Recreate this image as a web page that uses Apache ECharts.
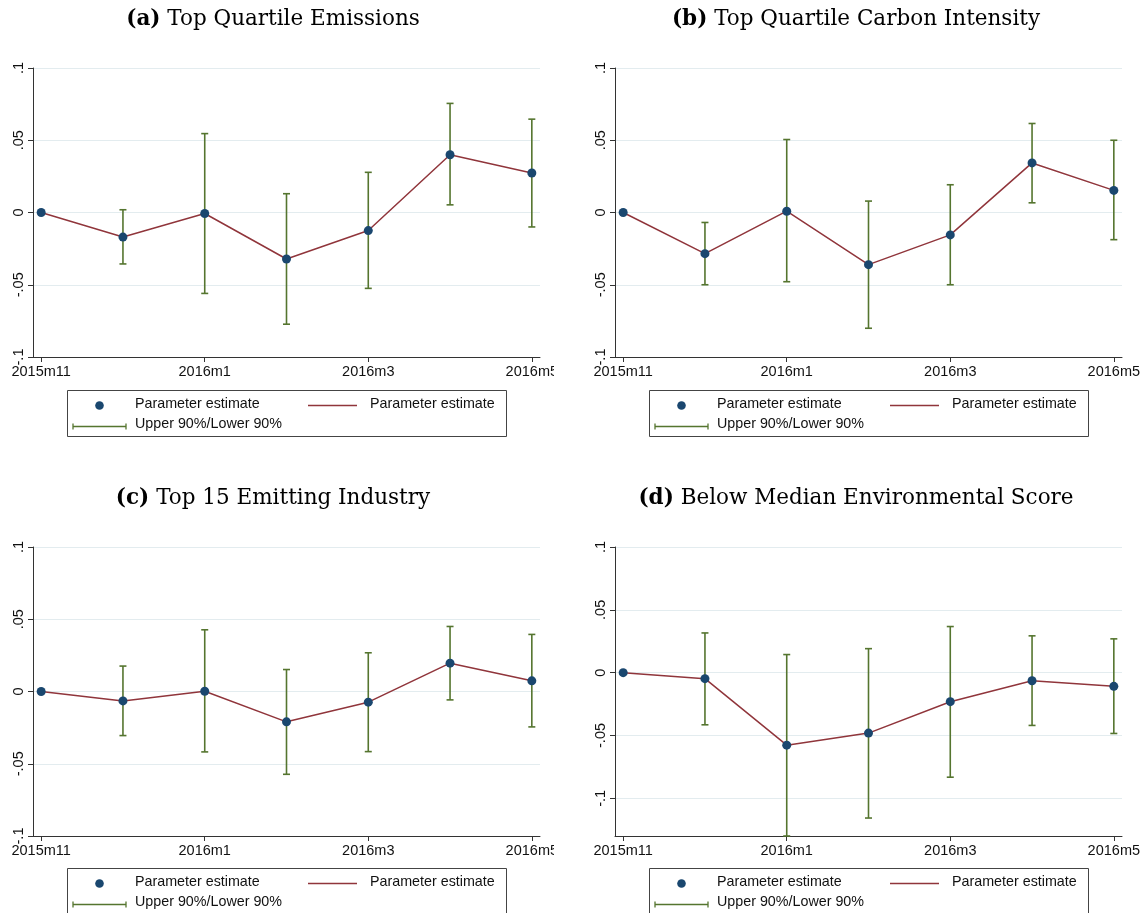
<!DOCTYPE html>
<html><head><meta charset="utf-8">
<script src="https://cdn.jsdelivr.net/npm/echarts@6/dist/echarts.min.js"></script>
<style>html,body{margin:0;padding:0;background:#fff}#c{width:1145px;height:913px}</style>
</head><body><div id="c"></div>
<script>
// ---- data ----
const months = ['2015m11','2015m12','2016m1','2016m2','2016m3','2016m4','2016m5'];
const xTickIdx = [0, 2, 4, 6];
const yTicks = [-0.1, -0.05, 0, 0.05, 0.1];

const panelLetters = ['(a)', '(b)', '(c)', '(d)'];
const panelTitles = ['Top Quartile Emissions', 'Top Quartile Carbon Intensity', 'Top 15 Emitting Industry', 'Below Median Environmental Score'];

const estA = [0, -0.0170, -0.0007, -0.0322, -0.0125, 0.0400, 0.0273];
const hiA  = [null, 0.0019, 0.0546, 0.0130, 0.0278, 0.0755, 0.0646];
const loA  = [null, -0.0356, -0.0560, -0.0773, -0.0525, 0.0053, -0.0100];

const estB = [0, -0.0285, 0.0009, -0.0361, -0.0155, 0.0343, 0.0153];
const hiB  = [null, -0.0069, 0.0505, 0.0079, 0.0192, 0.0616, 0.0500];
const loB  = [null, -0.0500, -0.0479, -0.0801, -0.0500, 0.0067, -0.0188];

const estC = [0, -0.0065, 0.0002, -0.0210, -0.0074, 0.0196, 0.0074];
const hiC  = [null, 0.0176, 0.0427, 0.0152, 0.0268, 0.0450, 0.0395];
const loC  = [null, -0.0305, -0.0418, -0.0573, -0.0416, -0.0058, -0.0245];

const estD = [0, -0.0048, -0.0577, -0.0481, -0.0231, -0.0064, -0.0109];
const hiD  = [null, 0.0316, 0.0144, 0.0191, 0.0367, 0.0293, 0.0269];
const loD  = [null, -0.0415, -0.1300, -0.1157, -0.0832, -0.0420, -0.0484];

const yMins = [-0.1, -0.1, -0.1, -0.13];
const yMax = 0.1;

const legendLabels = ['Parameter estimate', 'Parameter estimate', 'Upper 90%/Lower 90%'];

// ---- styles / layout ----
const NAVY = '#1a476f', MAROON = '#90353b', GREEN = '#55752f';
const GRIDC = '#e3ecef', AXISC = '#333333', TXT = '#111111';
const SANS = '"Liberation Sans", Arial, sans-serif';
const SERIF = '"DejaVu Serif", "Liberation Serif", serif';

const ests = [estA, estB, estC, estD];
const his = [hiA, hiB, hiC, hiD];
const los = [loA, loB, loC, loD];

const colX = [33, 615];
const rowY = [68, 547];
const GW = 507, GH = 289;
const titleX = [273, 856];
const titleY = [19, 498];

function fmtY(v) {
  const r = Math.round(v * 100) / 100;
  if (r === 0) return '0';
  return String(r).replace('0.', '.');
}

const grid = [], xAxis = [], yAxis = [], series = [], graphic = [];

for (let p = 0; p < 4; p++) {
  const c = p % 2, r = Math.floor(p / 2);
  grid.push({left: colX[c], top: rowY[r], width: GW, height: GH, containLabel: false});
  xAxis.push({
    type: 'value', gridIndex: p, min: -0.1, max: 6.1, position: 'bottom',
    axisLine: {show: true, onZero: false, lineStyle: {color: AXISC, width: 1}},
    axisTick: {show: true, length: 5, customValues: xTickIdx, lineStyle: {color: AXISC}},
    axisLabel: {show: true, customValues: xTickIdx, margin: 7, color: TXT, fontFamily: SANS, fontSize: 14.5,
      formatter: v => months[Math.round(v)]},
    splitLine: {show: false}
  });
  yAxis.push({
    type: 'value', gridIndex: p, min: yMins[p], max: yMax, position: 'left',
    axisLine: {show: true, onZero: false, lineStyle: {color: AXISC, width: 1}},
    axisTick: {show: true, length: 5, customValues: yTicks, lineStyle: {color: AXISC}},
    axisLabel: {show: true, customValues: yTicks, rotate: 90, margin: 7, color: TXT, fontFamily: SANS, fontSize: 14.5,
      formatter: fmtY},
    splitLine: {show: true, lineStyle: {color: GRIDC, width: 1}}
  });

  const ciData = [];
  for (let i = 0; i < months.length; i++) {
    if (his[p][i] !== null) ciData.push([i, los[p][i], his[p][i]]);
  }
  const ptData = ests[p].map((v, i) => [i, v]);

  series.push({
    type: 'custom', xAxisIndex: p, yAxisIndex: p, z: 2, silent: true,
    encode: {x: 0, y: [1, 2]},
    data: ciData,
    renderItem: (params, api) => {
      const x = api.value(0);
      const a = api.coord([x, api.value(2)]);
      const b = api.coord([x, api.value(1)]);
      const cap = 3.5;
      const st = {stroke: GREEN, lineWidth: 1.6};
      return {type: 'group', children: [
        {type: 'line', shape: {x1: a[0], y1: a[1], x2: b[0], y2: b[1]}, style: st},
        {type: 'line', shape: {x1: a[0] - cap, y1: a[1], x2: a[0] + cap, y2: a[1]}, style: st},
        {type: 'line', shape: {x1: b[0] - cap, y1: b[1], x2: b[0] + cap, y2: b[1]}, style: st}
      ]};
    }
  });
  series.push({
    type: 'line', xAxisIndex: p, yAxisIndex: p, z: 3, silent: true,
    data: ptData, showSymbol: false, symbol: 'none',
    lineStyle: {color: MAROON, width: 1.5}
  });
  series.push({
    type: 'scatter', xAxisIndex: p, yAxisIndex: p, z: 4, silent: true,
    data: ptData, symbol: 'circle', symbolSize: 9,
    itemStyle: {color: NAVY, opacity: 1}
  });

  // title
  graphic.push({
    type: 'text', x: titleX[c], y: titleY[r], z: 10,
    style: {
      text: '{b|' + panelLetters[p] + '} ' + panelTitles[p],
      font: '21.5px ' + SERIF, fill: '#000',
      align: 'center', verticalAlign: 'middle',
      textAlign: 'center', textVerticalAlign: 'middle',
      rich: {b: {fontWeight: 'bold', fontFamily: SERIF, fontSize: 21.5, fill: '#000'}}
    }
  });

  // legend box
  const bx = 67 + c * 582, by = 390 + r * 478;
  graphic.push({type: 'rect', z: 10, shape: {x: bx + 0.5, y: by + 0.5, width: 439, height: 46},
    style: {fill: '#fff', stroke: '#444', lineWidth: 1}});
  graphic.push({type: 'circle', z: 11, shape: {cx: bx + 32.5, cy: by + 15.5, r: 4.3}, style: {fill: NAVY}});
  graphic.push({type: 'text', z: 11, x: bx + 68, y: by + 14.5,
    style: {text: legendLabels[0], font: '14.3px ' + SANS, fill: TXT, verticalAlign: 'middle', textVerticalAlign: 'middle'}});
  graphic.push({type: 'line', z: 11, shape: {x1: bx + 241, y1: by + 15.5, x2: bx + 290, y2: by + 15.5},
    style: {stroke: MAROON, lineWidth: 1.5}});
  graphic.push({type: 'text', z: 11, x: bx + 303, y: by + 14.5,
    style: {text: legendLabels[1], font: '14.3px ' + SANS, fill: TXT, verticalAlign: 'middle', textVerticalAlign: 'middle'}});
  graphic.push({type: 'line', z: 11, shape: {x1: bx + 6, y1: by + 36.5, x2: bx + 59, y2: by + 36.5},
    style: {stroke: GREEN, lineWidth: 1.6}});
  graphic.push({type: 'line', z: 11, shape: {x1: bx + 6, y1: by + 33.5, x2: bx + 6, y2: by + 39.5},
    style: {stroke: GREEN, lineWidth: 1.3}});
  graphic.push({type: 'line', z: 11, shape: {x1: bx + 59, y1: by + 33.5, x2: bx + 59, y2: by + 39.5},
    style: {stroke: GREEN, lineWidth: 1.3}});
  graphic.push({type: 'text', z: 11, x: bx + 68, y: by + 34.5,
    style: {text: legendLabels[2], font: '14.3px ' + SANS, fill: TXT, verticalAlign: 'middle', textVerticalAlign: 'middle'}});

  // subfigure crop edge (left column last tick label is clipped in the original)
  if (c === 0) {
    graphic.push({type: 'rect', z: 20, shape: {x: 554, y: rowY[r] + GH + 3, width: 30, height: 22},
      style: {fill: '#fff'}});
  }
}

const chart = echarts.init(document.getElementById('c'), null, {renderer: 'canvas'});
chart.setOption({
  backgroundColor: '#fff',
  animation: false,
  grid, xAxis, yAxis, series, graphic
});
</script>
</body></html>
